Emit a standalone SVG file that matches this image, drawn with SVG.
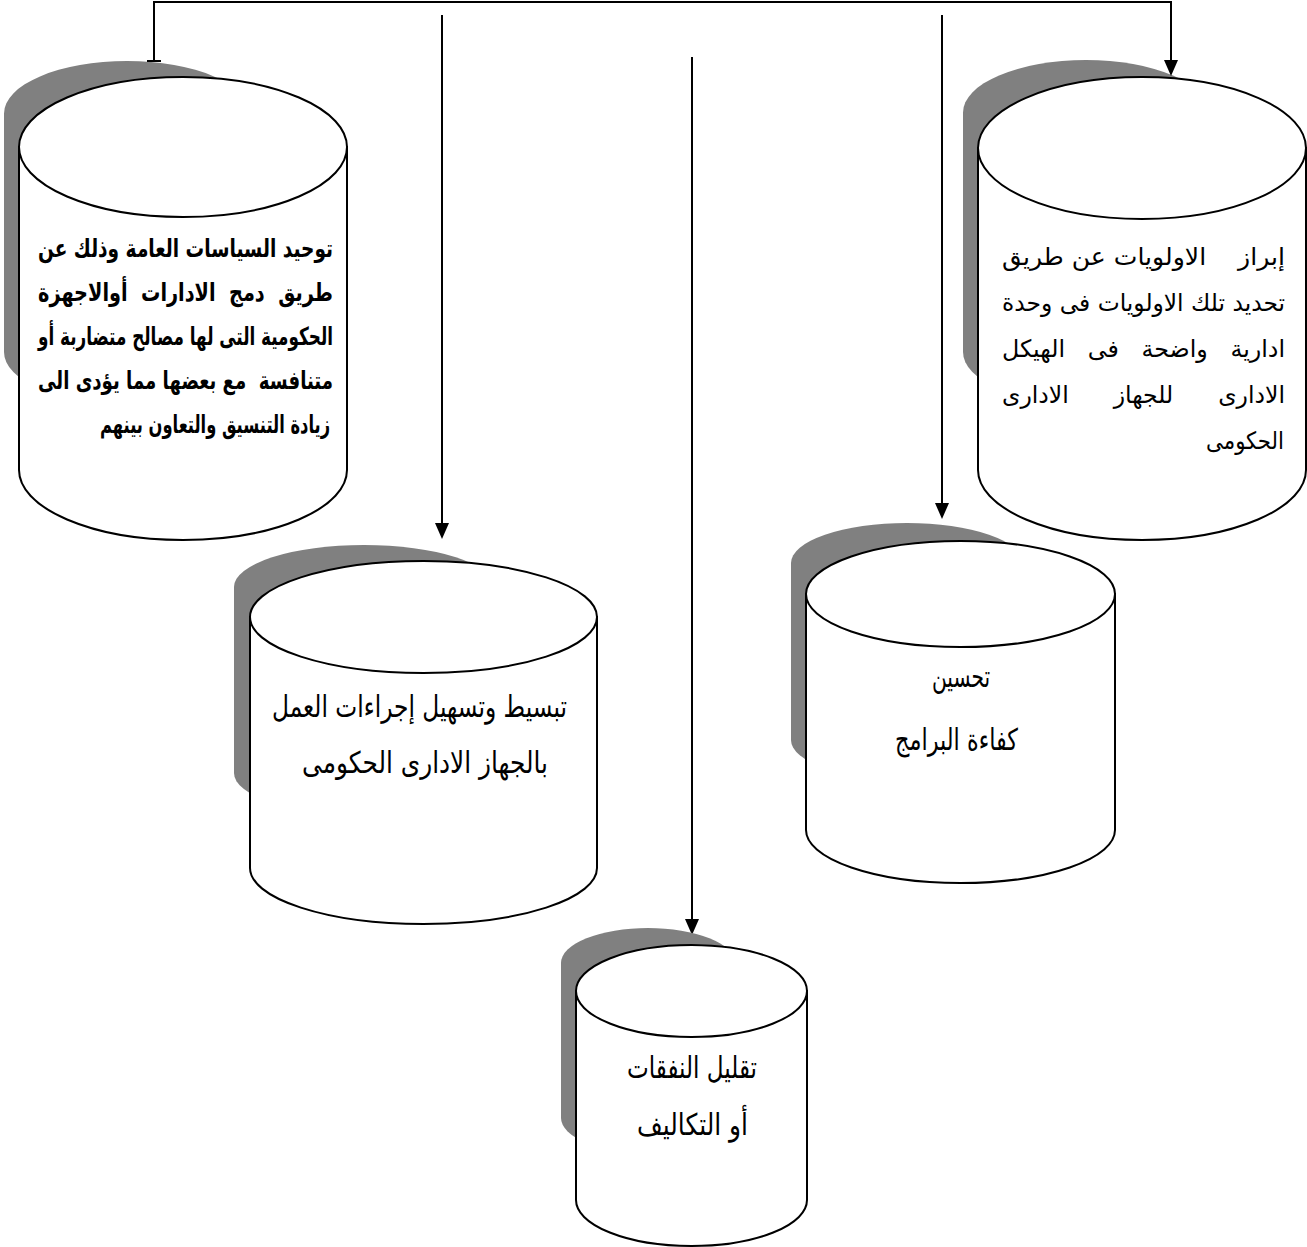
<svg xmlns="http://www.w3.org/2000/svg" width="1307" height="1247" viewBox="0 0 1307 1247">
<style>
.shadow{fill:#808080;stroke:none}
.body{fill:#ffffff;stroke:#000000;stroke-width:2}
.conn{fill:none;stroke:#000000;stroke-width:2}
.t{font-family:"DejaVu Sans",sans-serif;fill:#000000;text-anchor:middle;direction:rtl;white-space:pre}
.tb{font-weight:bold;font-size:25px}
.ta{font-size:24px}
.ts{font-size:30px}
</style>
<defs>
<marker id="arrow" viewBox="0 0 16 14" refX="0" refY="7" markerWidth="16" markerHeight="14" markerUnits="userSpaceOnUse" orient="auto">
<path d="M0,0 L16,7 L0,14 Z" fill="#000000"/>
</marker>
</defs>
<rect width="1307" height="1247" fill="#ffffff"/>

<g id="node-unify">
<path class="shadow" d="M4 113.5 A123 52.5 0 0 1 250 113.5 V352 A123 52.5 0 0 1 4 352 Z"/>
<path class="body" d="M19 147 V470 A164 70 0 0 0 347 470 V147 Z"/>
<ellipse class="body" cx="183" cy="147" rx="164" ry="70"/>
<text class="t tb" x="185.5" y="257" textLength="295" lengthAdjust="spacingAndGlyphs">توحيد السياسات العامة وذلك عن</text>
<text class="t tb" x="185.5" y="301" textLength="295" lengthAdjust="spacingAndGlyphs">طريق  دمج  الادارات  أوالاجهزة</text>
<text class="t tb" x="185.5" y="345" textLength="295" lengthAdjust="spacingAndGlyphs">الحكومية التى لها مصالح متضاربة أو</text>
<text class="t tb" x="185.5" y="389" textLength="295" lengthAdjust="spacingAndGlyphs">متنافسة  مع بعضها مما يؤدى الى</text>
<text class="t tb" x="215" y="433" textLength="230" lengthAdjust="spacingAndGlyphs">زيادة التنسيق والتعاون بينهم</text>
</g>

<g id="node-priorities">
<path class="shadow" d="M963 112.5 A123 52.5 0 0 1 1209 112.5 V352 A123 52.5 0 0 1 963 352 Z"/>
<path class="body" d="M978 148 V470 A164 70 0 0 0 1306 470 V148 Z"/>
<ellipse class="body" cx="1142" cy="148" rx="164" ry="71"/>
<text class="t ta" x="1143.5" y="265" textLength="283" lengthAdjust="spacingAndGlyphs">إبراز    الاولويات عن طريق</text>
<text class="t ta" x="1143.5" y="311" textLength="283" lengthAdjust="spacingAndGlyphs">تحديد تلك الاولويات فى وحدة</text>
<text class="t ta" x="1143.5" y="357" textLength="283" lengthAdjust="spacingAndGlyphs">ادارية   واضحة   فى   الهيكل</text>
<text class="t ta" x="1143.5" y="403" textLength="283" lengthAdjust="spacingAndGlyphs">الادارى      للجهاز      الادارى</text>
<text class="t ta" x="1245" y="449" textLength="78" lengthAdjust="spacingAndGlyphs">الحكومى</text>
</g>

<g id="node-simplify">
<path class="shadow" d="M234 587 A130 42 0 0 1 494 587 V773 A130 42 0 0 1 234 773 Z"/>
<path class="body" d="M250 617 V868 A173.5 56 0 0 0 597 868 V617 Z"/>
<ellipse class="body" cx="423.5" cy="617" rx="173.5" ry="56"/>
<text class="t ts" x="419.5" y="717" textLength="295" lengthAdjust="spacingAndGlyphs">تبسيط وتسهيل إجراءات العمل</text>
<text class="t ts" x="425" y="773" textLength="246" lengthAdjust="spacingAndGlyphs">بالجهاز الادارى الحكومى</text>
</g>

<g id="node-efficiency">
<path class="shadow" d="M791 563 A116 40 0 0 1 1023 563 V740 A116 40 0 0 1 791 740 Z"/>
<path class="body" d="M806 594 V830 A154.5 53 0 0 0 1115 830 V594 Z"/>
<ellipse class="body" cx="960.5" cy="594" rx="154.5" ry="53"/>
<text class="t ts" x="961" y="687" textLength="58" lengthAdjust="spacingAndGlyphs">تحسين</text>
<text class="t ts" x="956.5" y="750" textLength="123" lengthAdjust="spacingAndGlyphs">كفاءة البرامج</text>
</g>

<g id="connectors">
<path class="conn" d="M154 61 V2 H1171 V60" marker-end="url(#arrow)"/>
<path class="conn" d="M147 61 H161"/>
<path class="conn" d="M442 15 V523" marker-end="url(#arrow)"/>
<path class="conn" d="M942 15 V503" marker-end="url(#arrow)"/>
<path class="conn" d="M692 57 V919" marker-end="url(#arrow)"/>
</g>

<g id="node-costs">
<path class="shadow" d="M561 963 A87 35 0 0 1 735 963 V1118 A87 35 0 0 1 561 1118 Z"/>
<path class="body" d="M576 991 V1200 A115.5 46 0 0 0 807 1200 V991 Z"/>
<ellipse class="body" cx="691.5" cy="991" rx="115.5" ry="46"/>
<text class="t ts" x="692" y="1078" textLength="130" lengthAdjust="spacingAndGlyphs">تقليل النفقات</text>
<text class="t ts" x="692.5" y="1135" textLength="111" lengthAdjust="spacingAndGlyphs">أو التكاليف</text>
</g>
</svg>
